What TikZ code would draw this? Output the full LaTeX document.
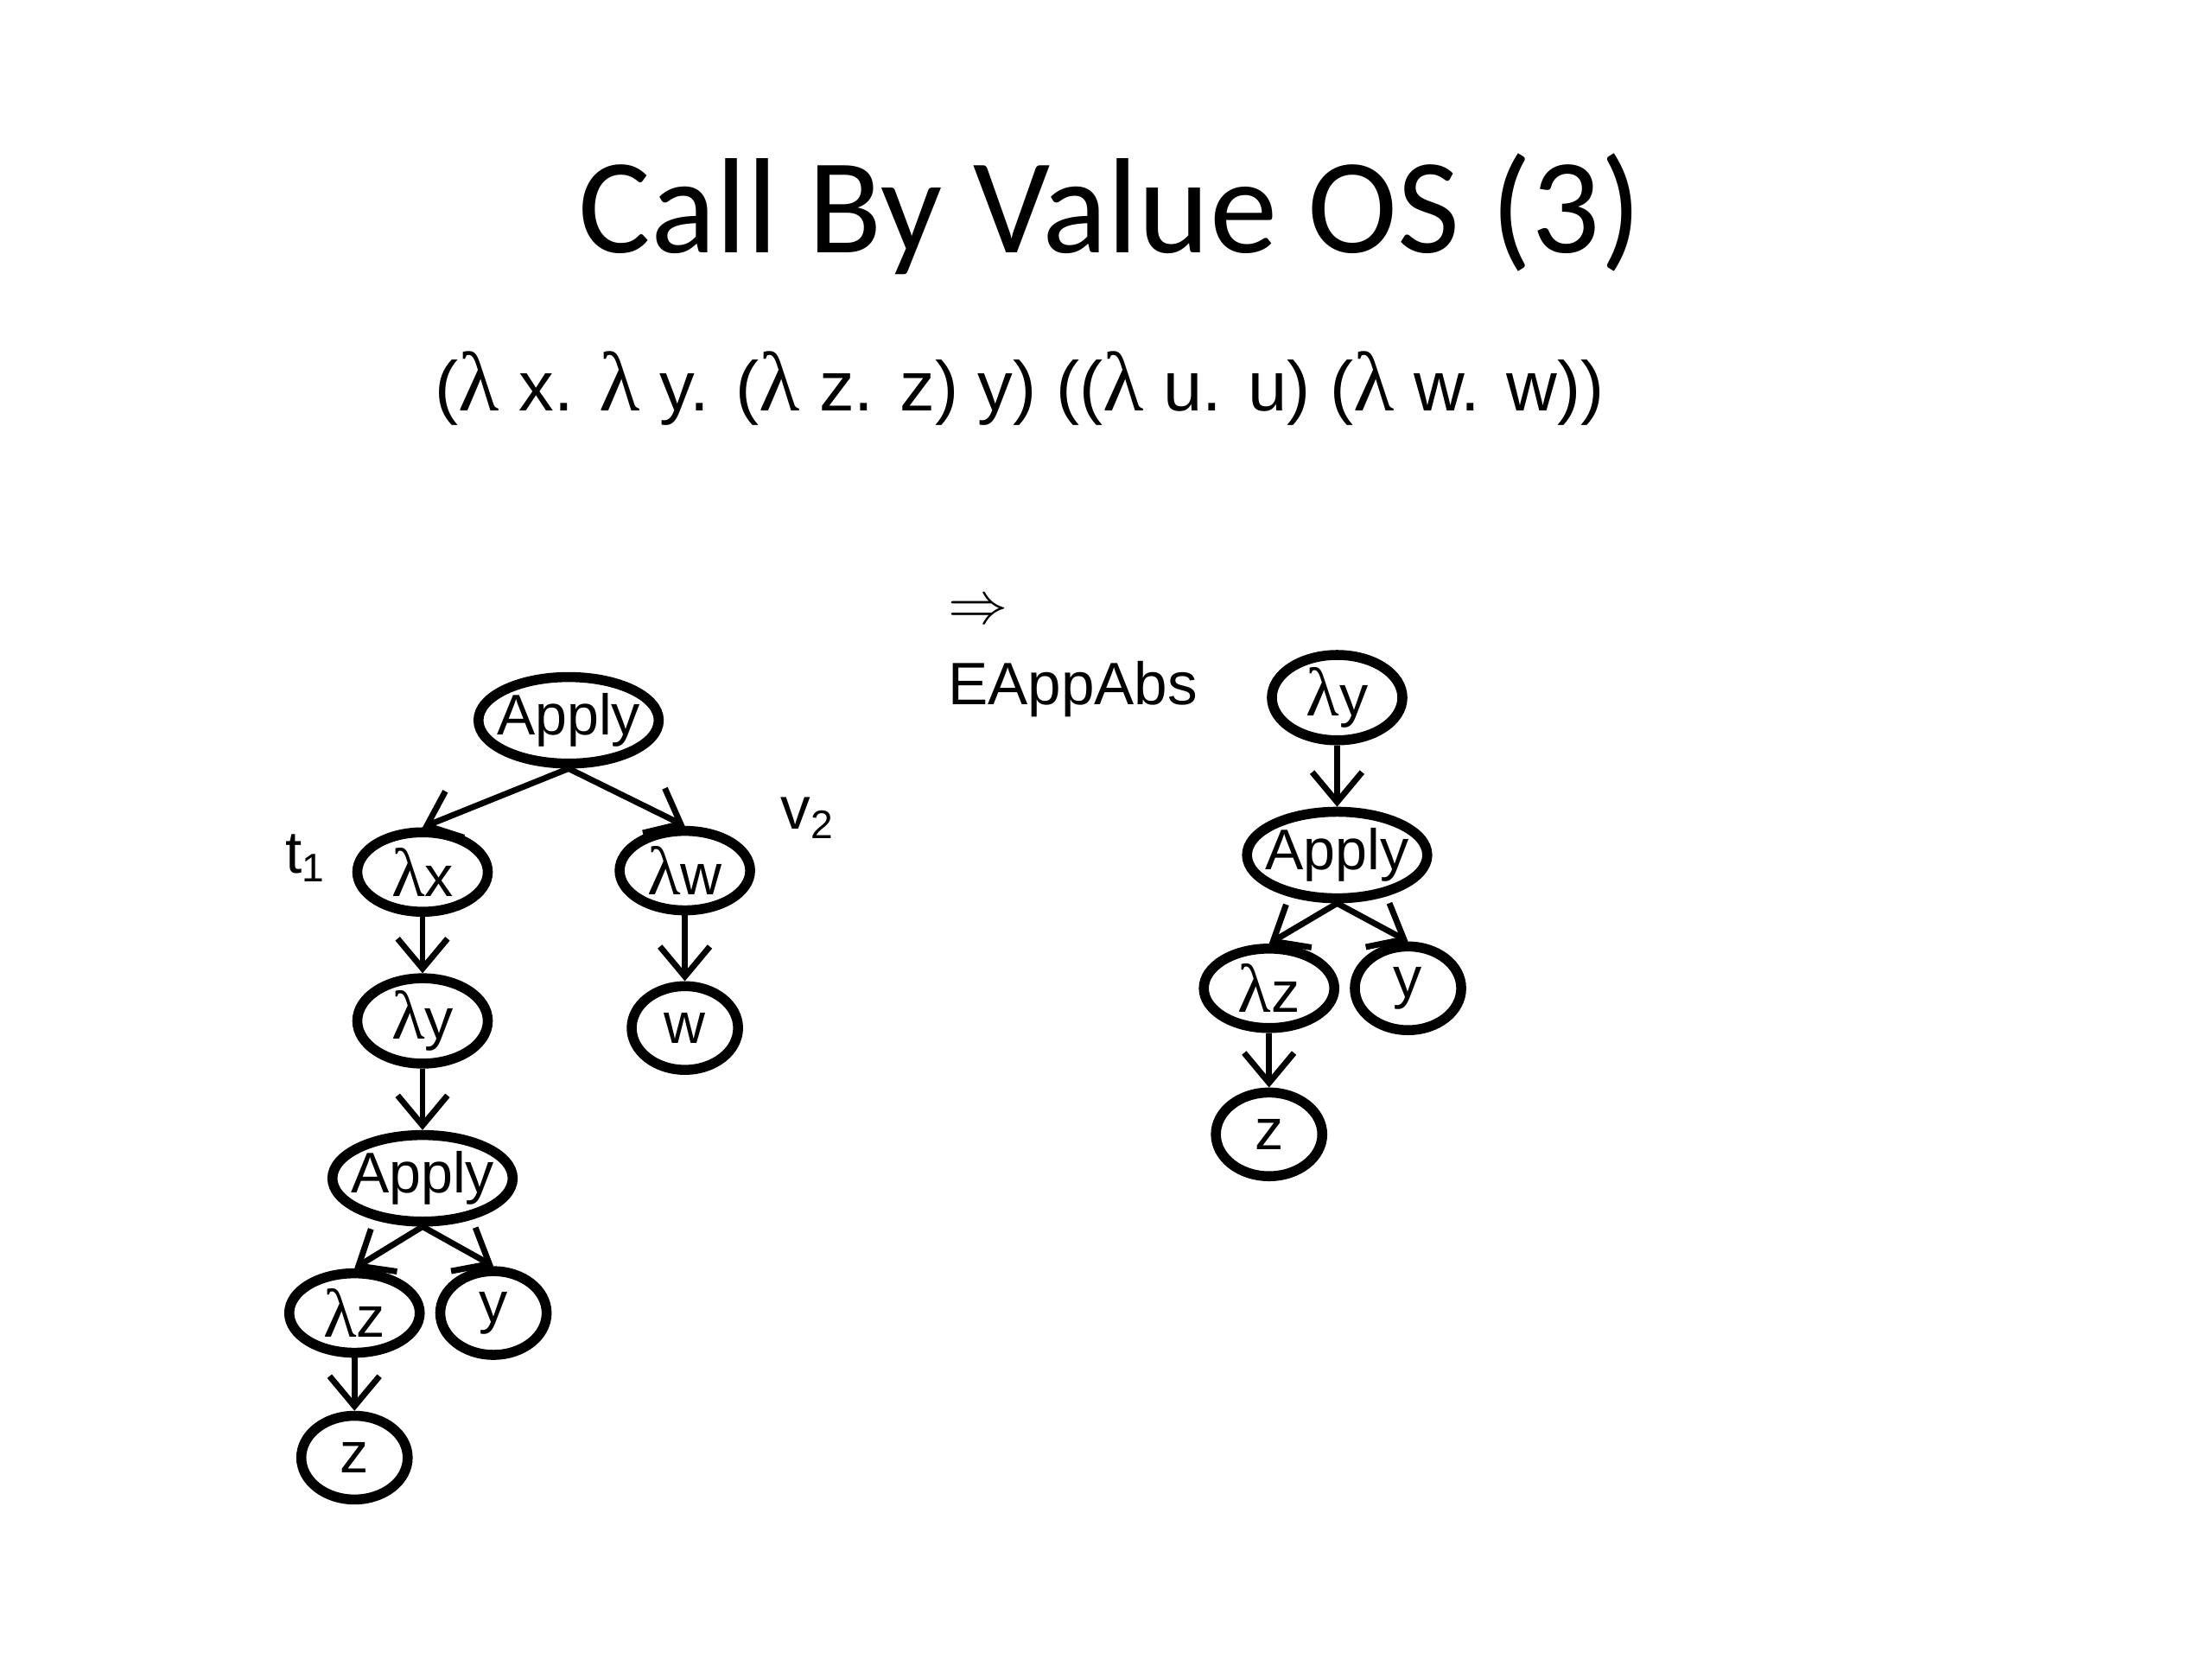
\documentclass[tikz,border=0pt]{standalone}
\usepackage{fontspec}
\setmainfont{Liberation Sans}
\newfontfamily\titlefont{Carlito}
\newfontfamily\lamfont{Liberation Serif}[Scale=1.2]
\newcommand{\lam}{{\lamfont λ}}
\usetikzlibrary{shapes.geometric,arrows.meta}

\begin{document}
\begin{tikzpicture}[x=0.01cm, y=-0.01cm,
  every node/.style={inner sep=0pt},
  tnode/.style={ellipse, draw, line width=2pt, font=\fontsize{11.5}{13}\selectfont},
  app/.style={tnode, inner xsep=-1.6pt, minimum width=1.24cm, minimum height=0.61cm},
  lamnode/.style={tnode, minimum width=0.92cm, minimum height=0.56cm},
  var/.style={tnode, minimum width=0.75cm, minimum height=0.59cm},
  edge/.style={-{Straight Barb[length=6pt,width=10pt]}, line width=1.2pt}]
  \useasboundingbox (0,0) rectangle (1560,1170);
  \node (title) [anchor=base] at (783,178) {\titlefont\fontsize{27.2}{33}\selectfont Call By Value OS (3)};
  \node (term) [anchor=base, font=\fontsize{14.1}{17}\selectfont] at (719,290)
    {(\lam{} x. \lam{} y. (\lam{} z. z) y) ((\lam{} u. u) (\lam{} w. w))};
  \node (arr) [anchor=west, font=\fontsize{12}{14}\selectfont] at (668,432) {\(\Rightarrow\)};
  \node (rule) [anchor=base west, font=\fontsize{12}{14}\selectfont] at (668,497) {EAppAbs};
  % left tree
  \node (1) [app] at (401,508) {Apply};
  \node (2) [lamnode] at (298,615) {\lam x};
  \node (3) [lamnode] at (483,614) {\lam w};
  \node (4) [lamnode] at (298,720) {\lam y};
  \node (5) [var] at (483,725) {w};
  \node (6) [app] at (298,831) {Apply};
  \node (7) [lamnode] at (250,926) {\lam z};
  \node (8) [var] at (348,926) {y};
  \node (9) [var] at (250,1028) {z};
  \node (t1) [font=\fontsize{12}{14}\selectfont] at (216,605) {t\textsubscript{1}};
  \node (v2) [font=\fontsize{12}{14}\selectfont] at (570,577) {v\textsubscript{2}};
  \draw [edge] (1.south) -- (2.north);
  \draw [edge] (1.south) -- (3.north);
  \draw [edge] (2) -- (4);
  \draw [edge] (3) -- (5);
  \draw [edge] (4) -- (6);
  \draw [edge] (6.south) -- (7.north);
  \draw [edge] (6.south) -- (8.north);
  \draw [edge] (7) -- (9);
  % right tree
  \node (r1) [lamnode] at (943,492) {\lam y};
  \node (r2) [app] at (943,603) {Apply};
  \node (r3) [lamnode] at (895,697) {\lam z};
  \node (r4) [var] at (993,697) {y};
  \node (r5) [var] at (895,800) {z};
  \draw [edge] (r1) -- (r2);
  \draw [edge] (r2.south) -- (r3.north);
  \draw [edge] (r2.south) -- (r4.north);
  \draw [edge] (r3) -- (r5);
\end{tikzpicture}
\end{document}
